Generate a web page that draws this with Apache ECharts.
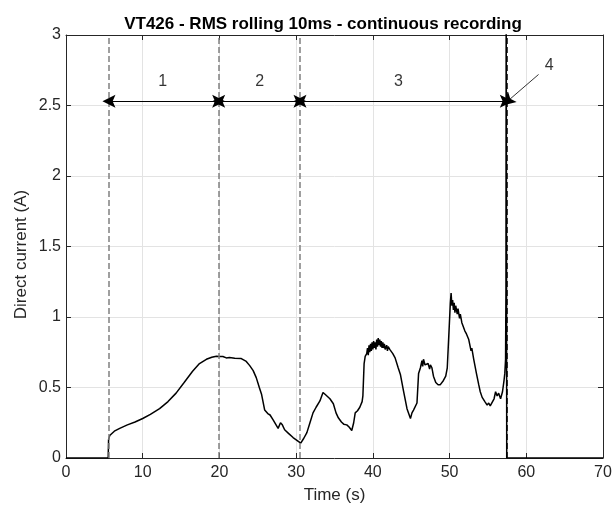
<!DOCTYPE html>
<html>
<head>
<meta charset="utf-8">
<script src="https://cdn.jsdelivr.net/npm/echarts@6/dist/echarts.min.js"></script>
<style>
html,body{margin:0;padding:0;background:#fff;}
#chart{width:613px;height:508px;}
</style>
</head>
<body>
<div id="chart"></div>
<script>
// ---- data ----
const timeS = [0, 5.5, 5.55, 5.7, 6.3, 7, 8, 9, 10, 11, 12.2, 13.3, 14.35, 15.4, 16.5, 17.4, 18.3, 19, 19.6, 20.0, 20.45, 20.9, 21.3, 22.0, 22.85, 23.5, 23.95, 24.4, 24.8, 25.2, 25.5, 25.9, 26.3, 26.6, 27.0, 27.2, 27.65, 27.96, 28.2, 28.5, 29.0, 29.6, 30.1, 30.6, 31.0, 31.4, 31.8, 32.2, 32.6, 33.1, 33.5, 33.8, 34.4, 34.85, 35.2, 35.5, 35.9, 36.2, 36.6, 36.9, 37.25, 37.5, 37.7, 38.0, 38.3, 38.6, 38.7, 38.86, 39.0, 39.2,
  39.3, 39.4, 39.5, 39.6, 39.7, 39.8, 39.9, 40.0, 40.1, 40.2, 40.3, 40.4, 40.5, 40.6, 40.7, 40.8, 40.9, 41.0, 41.1, 41.2, 41.3, 41.4, 41.5, 41.6, 41.8, 41.9, 42.0, 42.2, 42.3, 42.6, 42.9, 43.3, 43.6, 44.0, 44.45, 44.9, 45.1, 45.3, 45.5, 45.75, 45.96, 46.2, 46.4, 46.5, 46.6, 46.8, 47.05, 47.2, 47.4, 47.5, 47.7, 47.9, 48.2, 48.5, 48.8, 49.2, 49.5, 49.7, 49.98, 50.1, 50.2, 50.3, 50.4, 50.5, 50.6, 50.7, 50.8, 51.0, 51.1, 51.3, 51.4, 51.6, 51.85, 52.0, 52.2, 52.5, 52.8, 52.9, 53.15, 53.5, 53.8, 54.0, 54.25, 54.6, 54.9, 55.1, 55.3, 55.55, 55.8, 56.0, 56.2, 56.4, 56.65, 56.9, 57.1, 57.2, 57.3, 57.35, 57.38, 57.42, 57.45, 70];
const currentA = [0, 0, 0.13, 0.16, 0.19, 0.21, 0.235, 0.255, 0.28, 0.31, 0.35, 0.40, 0.46, 0.535, 0.615, 0.67, 0.70, 0.715, 0.722, 0.72, 0.72, 0.71, 0.712, 0.708, 0.705, 0.685, 0.655, 0.62, 0.57, 0.5, 0.45, 0.34, 0.315, 0.305, 0.27, 0.26, 0.21, 0.25, 0.235, 0.2, 0.175, 0.145, 0.125, 0.105, 0.14, 0.18, 0.25, 0.32, 0.36, 0.405, 0.465, 0.45, 0.42, 0.385, 0.32, 0.285, 0.255, 0.24, 0.235, 0.22, 0.195, 0.25, 0.32, 0.335, 0.36, 0.4, 0.44, 0.67, 0.72, 0.74,
  0.78, 0.73, 0.80, 0.75, 0.81, 0.76, 0.82, 0.77, 0.83, 0.78, 0.82, 0.77, 0.84, 0.79, 0.85, 0.80, 0.84, 0.79, 0.83, 0.78, 0.82, 0.78, 0.81, 0.77, 0.80, 0.76, 0.79, 0.77, 0.775, 0.74, 0.71, 0.64, 0.59, 0.475, 0.35, 0.28, 0.32, 0.34, 0.33, 0.39, 0.6, 0.64, 0.69, 0.65, 0.70, 0.66, 0.65, 0.67, 0.63, 0.66, 0.64, 0.58, 0.535, 0.52, 0.52, 0.55, 0.58, 0.64, 0.96, 1.1, 1.17, 1.08, 1.12, 1.05, 1.10, 1.03, 1.08, 1.02, 1.06, 0.99, 1.02, 0.96, 0.95, 0.90, 0.88, 0.84, 0.76, 0.78, 0.70, 0.60, 0.52, 0.47, 0.43, 0.40, 0.375, 0.39, 0.37, 0.38, 0.42, 0.47, 0.44, 0.46, 0.42, 0.47, 0.55, 0.6, 0.7, 1.2, 3.5, 3.5, 0, 0];

const phaseBounds = [5.6, 19.9, 30.5, 57.4];      // dashed vertical lines (s)
const phaseLabels = ['1', '2', '3', '4'];
const phaseLabelX = [12.6, 25.25, 43.35, 63.0];
const phaseLabelY = [2.67, 2.67, 2.67, 2.78];
const arrowY = 2.53;
const arrow4From = [61.6, 2.72];
const arrow4To = [57.55, 2.53];

// ---- chart ----
const FONT = 'Liberation Sans, Arial, Helvetica, sans-serif';
const AX = '#262626';
const arrowHead = 'path://M0,14 L7,0 L14,14 L7,11 Z';
const chart = echarts.init(document.getElementById('chart'), null, {renderer: 'canvas'});

const series = [{
  type: 'line',
  data: timeS.map((t, i) => [t, currentA[i]]),
  showSymbol: false,
  clip: true,
  lineStyle: {color: '#000', width: 1.5},
  z: 3,
  silent: true
}, {
  type: 'line',
  data: [],
  silent: true,
  markLine: {
    silent: true,
    symbol: 'none',
    label: {show: false},
    animation: false,
    data: phaseBounds.map((x, i) => ({
      xAxis: x,
      lineStyle: {type: [6, 3], color: i === 3 ? '#000' : '#808080', width: 1.5}
    }))
  }
}, {
  type: 'line',
  data: [],
  silent: true,
  markLine: {
    silent: true,
    symbol: [arrowHead, arrowHead],
    symbolSize: 13,
    label: {show: false},
    animation: false,
    lineStyle: {type: 'solid', color: '#000', width: 1},
    data: [
      [{coord: [phaseBounds[0], arrowY]}, {coord: [phaseBounds[1], arrowY]}],
      [{coord: [phaseBounds[1], arrowY]}, {coord: [phaseBounds[2], arrowY]}],
      [{coord: [phaseBounds[2], arrowY]}, {coord: [phaseBounds[3], arrowY]}]
    ]
  }
}, {
  type: 'line',
  data: [],
  silent: true,
  markLine: {
    silent: true,
    symbol: ['none', arrowHead],
    symbolSize: 13,
    label: {show: false},
    animation: false,
    lineStyle: {type: 'solid', color: '#000', width: 0.8},
    data: [[{coord: arrow4From}, {coord: arrow4To}]]
  }
}, {
  type: 'scatter',
  silent: true,
  symbolSize: 0,
  data: phaseLabels.map((n, i) => ({name: n, value: [phaseLabelX[i], phaseLabelY[i]]})),
  label: {
    show: true, position: 'inside', formatter: p => p.name,
    color: '#000', fontSize: 16, fontFamily: FONT
  },
  z: 5
}];

chart.setOption({
  animation: false,
  backgroundColor: '#fff',
  title: {
    text: 'VT426 - RMS rolling 10ms - continuous recording',
    left: 318, top: 11, textAlign: 'center',
    textStyle: {fontSize: 17, fontWeight: 'bold', color: '#000', fontFamily: FONT}
  },
  grid: {left: 66, right: 10, top: 35, bottom: 50, show: false, containLabel: false, outerBoundsMode: 'none'},
  xAxis: [{
    type: 'value', min: 0, max: 70, interval: 10, position: 'bottom',
    name: 'Time (s)', nameLocation: 'middle', nameGap: 29, nameMoveOverlap: false,
    nameTextStyle: {fontSize: 17, color: AX, fontFamily: FONT},
    axisLine: {show: true, onZero: false, lineStyle: {color: AX, width: 1}},
    axisTick: {show: true, inside: true, length: 5, lineStyle: {color: AX}},
    axisLabel: {fontSize: 16, color: AX, margin: 7, fontFamily: FONT},
    splitLine: {show: true, lineStyle: {color: '#e3e3e3', width: 1}}
  }, {
    type: 'value', min: 0, max: 70, interval: 10, position: 'top',
    axisLine: {show: true, onZero: false, lineStyle: {color: AX, width: 1}},
    axisTick: {show: true, inside: true, length: 5, lineStyle: {color: AX}},
    axisLabel: {show: false}, splitLine: {show: false}
  }],
  yAxis: [{
    type: 'value', min: 0, max: 3, interval: 0.5, position: 'left',
    name: 'Direct current (A)', nameLocation: 'middle', nameGap: 36, nameRotate: 90, nameMoveOverlap: false,
    nameTextStyle: {fontSize: 17, color: AX, fontFamily: FONT, padding: [0, 16, 0, 0]},
    axisLine: {show: true, onZero: false, lineStyle: {color: AX, width: 1}},
    axisTick: {show: true, inside: true, length: 5, lineStyle: {color: AX}},
    axisLabel: {fontSize: 16, color: AX, margin: 5, fontFamily: FONT},
    splitLine: {show: true, lineStyle: {color: '#e3e3e3', width: 1}}
  }, {
    type: 'value', min: 0, max: 3, interval: 0.5, position: 'right',
    axisLine: {show: true, onZero: false, lineStyle: {color: AX, width: 1}},
    axisTick: {show: true, inside: true, length: 5, lineStyle: {color: AX}},
    axisLabel: {show: false}, splitLine: {show: false}
  }],
  series: series
});
</script>
</body>
</html>
